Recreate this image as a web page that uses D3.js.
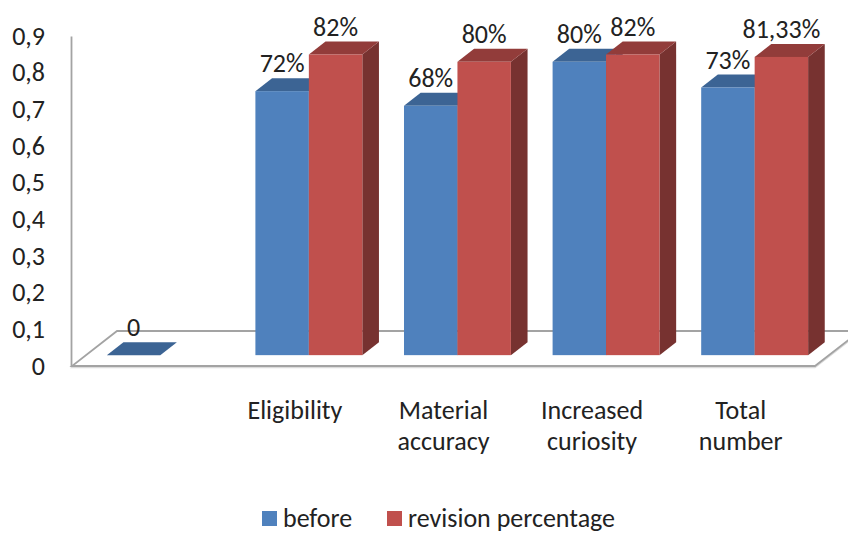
<!DOCTYPE html>
<html>
<head>
<meta charset="utf-8">
<script src="https://cdn.jsdelivr.net/npm/d3@7"></script>
<style>
  html, body { margin: 0; padding: 0; background: #fff; }
  svg { display: block; }
  text { font-family: Carlito, Calibri, Lato, "Open Sans", sans-serif; fill: #222; }
</style>
</head>
<body>
<svg id="chart" width="848" height="533"></svg>
<script>
// Data
const categories = ["", "Eligibility", "Material accuracy", "Increased curiosity", "Total number"];
const seriesNames = ["before", "revision percentage"];
const beforeValues = [0, 0.72, 0.68, 0.80, 0.73];
const revisionValues = [null, 0.82, 0.80, 0.82, 0.8133];
const beforeLabels = ["0", "72%", "68%", "80%", "73%"];
const revisionLabels = [null, "82%", "80%", "82%", "81,33%"];
const yTicks = [0, 0.1, 0.2, 0.3, 0.4, 0.5, 0.6, 0.7, 0.8, 0.9];
const yTickLabels = ["0", "0,1", "0,2", "0,3", "0,4", "0,5", "0,6", "0,7", "0,8", "0,9"];

const colors = {
  "before": { front: "#4f81bd", top: "#3c6494", side: "#2f4f77" },
  "revision percentage": { front: "#c0504d", top: "#923c3a", side: "#773230" }
};

const svg = d3.select("#chart");
const FS = 26;

// Oblique 3-D projection: floor depth vector, bars occupy the middle slice
const depth = { dx: 45, dy: -35 };
const barFront = 0.31, barBack = 0.68;
const fOff = { dx: depth.dx * barFront, dy: depth.dy * barFront };
const bDepth = { dx: depth.dx * (barBack - barFront), dy: depth.dy * (barBack - barFront) };

const x = d3.scaleBand().domain(categories).range([72, 815]).paddingInner(0).paddingOuter(0);
const xs = d3.scaleBand().domain(seriesNames).range([0, x.bandwidth()]).paddingInner(0).paddingOuter(0.39);
const y = d3.scaleLinear().domain([0, 0.9]).range([366, 36]);

// Floor
const fl = [
  [x.range()[0], y(0)],
  [x.range()[1], y(0)],
  [x.range()[1] + depth.dx, y(0) + depth.dy],
  [x.range()[0] + depth.dx, y(0) + depth.dy]
];
svg.append("polygon")
  .attr("points", fl.map(p => [p[0], p[1] + 1.5].join(",")).join(" "))
  .attr("fill", "none").attr("stroke", "#dcdcdc").attr("stroke-width", 1.5);
svg.append("polygon")
  .attr("points", fl.map(p => p.join(",")).join(" "))
  .attr("fill", "#fff").attr("stroke", "#a3a3a3").attr("stroke-width", 1.8);

// Value axis
const yAxis = d3.axisLeft(y)
  .tickValues(yTicks)
  .tickFormat((d, i) => yTickLabels[i])
  .tickSize(0)
  .tickSizeOuter(0)
  .tickPadding(26);
const gy = svg.append("g").attr("transform", "translate(71,0)").call(yAxis);
gy.select(".domain").attr("stroke", "#a3a3a3").attr("stroke-width", 1.8);
gy.selectAll(".tick text")
  .attr("font-size", FS)
  .attr("font-family", "Carlito, Calibri, Lato, 'Open Sans', sans-serif")
  .attr("fill", "#222");

// Bars
const rows = categories.map((c, i) => ({
  cat: c,
  bars: [
    { s: "before", v: beforeValues[i], label: beforeLabels[i] },
    { s: "revision percentage", v: revisionValues[i], label: revisionLabels[i] }
  ].filter(b => b.v !== null)
}));

const pts = a => a.map(p => p.join(",")).join(" ");
const bw = xs.bandwidth();

rows.forEach(r => {
  r.bars.forEach(b => {
    const x0 = x(r.cat) + xs(b.s) + fOff.dx;
    const yb = y(0) + fOff.dy;
    const yt = y(b.v) + fOff.dy;
    const c = colors[b.s];
    const g = svg.append("g");
    // right side face
    g.append("polygon")
      .attr("points", pts([[x0 + bw, yt], [x0 + bw + bDepth.dx, yt + bDepth.dy], [x0 + bw + bDepth.dx, yb + bDepth.dy], [x0 + bw, yb]]))
      .attr("fill", c.side);
    // top face
    g.append("polygon")
      .attr("points", pts([[x0, yt], [x0 + bw, yt], [x0 + bw + bDepth.dx, yt + bDepth.dy], [x0 + bDepth.dx, yt + bDepth.dy]]))
      .attr("fill", c.top);
    // front face
    if (yb - yt > 0) {
      g.append("rect")
        .attr("x", x0).attr("y", yt).attr("width", bw).attr("height", yb - yt)
        .attr("fill", c.front);
    }
  });
});

// Data labels
rows.forEach(r => {
  r.bars.forEach(b => {
    const x0 = x(r.cat) + xs(b.s) + fOff.dx;
    const ytBack = y(b.v) + fOff.dy + bDepth.dy;
    svg.append("text")
      .attr("x", x0 + bw / 2)
      .attr("y", ytBack - 6)
      .attr("text-anchor", "middle")
      .attr("font-size", FS)
      .text(b.label);
  });
});

// Category labels, one word per line
categories.forEach(c => {
  if (!c) return;
  const t = svg.append("text")
    .attr("x", x(c) + x.bandwidth() / 2)
    .attr("y", 419)
    .attr("text-anchor", "middle")
    .attr("font-size", FS);
  c.split(" ").forEach((w, i) => {
    t.append("tspan").attr("x", x(c) + x.bandwidth() / 2).attr("dy", i === 0 ? 0 : 30.5).text(w);
  });
});

// Legend
const legendItems = [
  { s: "before", x: 262, tx: 283 },
  { s: "revision percentage", x: 387, tx: 408 }
];
legendItems.forEach(d => {
  svg.append("rect").attr("x", d.x).attr("y", 511).attr("width", 15).attr("height", 15)
    .attr("fill", colors[d.s].front);
  svg.append("text").attr("x", d.tx).attr("y", 527).attr("font-size", FS).text(d.s);
});
</script>
</body>
</html>
